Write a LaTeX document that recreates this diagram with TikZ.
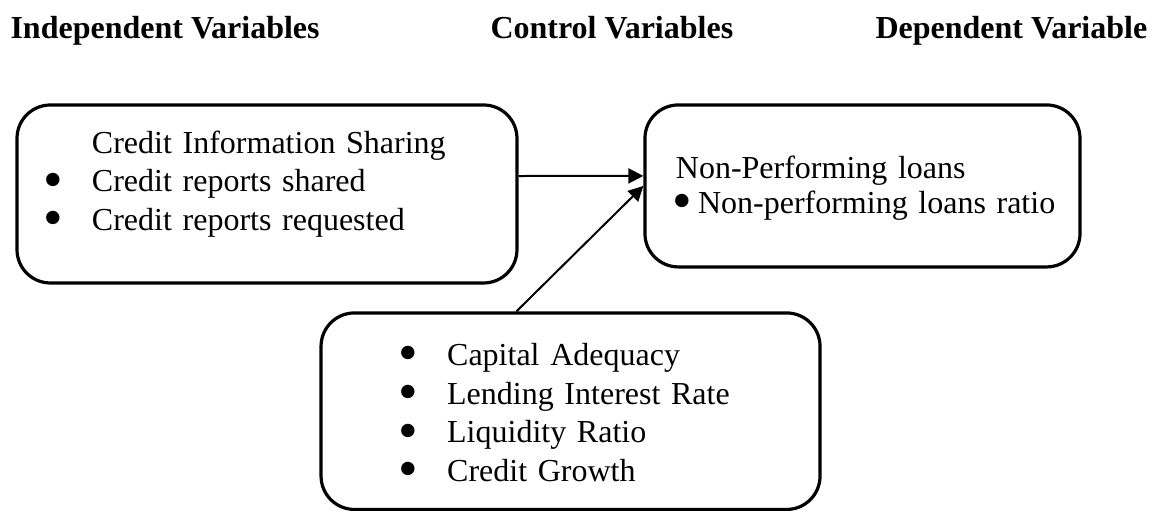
\documentclass[tikz,border=0pt]{standalone}
\usepackage{fontspec}
\setmainfont{Liberation Serif}
\usetikzlibrary{positioning,arrows.meta,calc}

% list bullet, a bit larger than the text one
\newcommand{\bul}{\raisebox{-2.4pt}{\fontsize{21}{21}\selectfont\textbullet}}

\begin{document}
\begin{tikzpicture}[
    varbox/.style={draw, line width=1.2pt, rounded corners=0.44cm},
    vartext/.style={anchor=base west, inner sep=0pt, align=left, text width=6cm},
    head/.style={anchor=base west, inner sep=0pt, font=\fontsize{12}{14}\selectfont\bfseries},
    link/.style={-{Triangle[length=5.6pt,width=5.6pt]}, line width=0.75pt},
    font=\fontsize{12}{14.4}\selectfont]
%
    \useasboundingbox (0,0) rectangle (15.25,6.735);
%
    % column headings
    \node[head] (hInd) at (0.132,6.221) {Independent Variables};
    \node[head] (hCtl) at (6.458,6.221) {Control Variables};
    \node[head] (hDep) at (11.533,6.221) {Dependent Variable};
%
    % boxes
    \node[varbox, minimum width=6.59cm, minimum height=2.346cm] (cis) at (3.519,4.178) {};
    \node[varbox, minimum width=5.734cm, minimum height=2.135cm] (npl) at (11.368,4.284) {};
    \node[varbox, minimum width=6.577cm, minimum height=2.59cm] (ctl) at (7.52,1.315) {};
%
    % box contents
    \node[vartext, font=\fontsize{12}{14.45}\selectfont] (cisText)
        at ([shift={(0.37,-0.659)}]cis.north west)
        {\hspace*{18pt}Credit Information Sharing\\
         \makebox[18pt][l]{\bul}Credit reports shared\\
         \makebox[18pt][l]{\bul}Credit reports requested};
    \node[vartext, font=\fontsize{12}{13.1}\selectfont] (nplText)
        at ([shift={(0.422,-0.989)}]npl.north west)
        {Non-Performing loans\\
         \hspace*{-1.1pt}\makebox[9.4pt][l]{\bul}Non-performing loans ratio};
    \node[vartext, font=\fontsize{12}{14.5}\selectfont] (ctlText)
        at ([shift={(1.03,-0.712)}]ctl.north west)
        {\makebox[18.4pt][l]{\bul}Capital Adequacy\\
         \makebox[18.4pt][l]{\bul}Lending Interest Rate\\
         \makebox[18.4pt][l]{\bul}Liquidity Ratio\\
         \makebox[18.4pt][l]{\bul}Credit Growth};
%
    % arrows into the dependent variable
    \draw[link] ([yshift=0.237cm]cis.east) -- ([yshift=0.132cm]npl.west);
    \draw[link] ([xshift=2.597cm]ctl.north west) -- (npl.west);
\end{tikzpicture}
\end{document}
